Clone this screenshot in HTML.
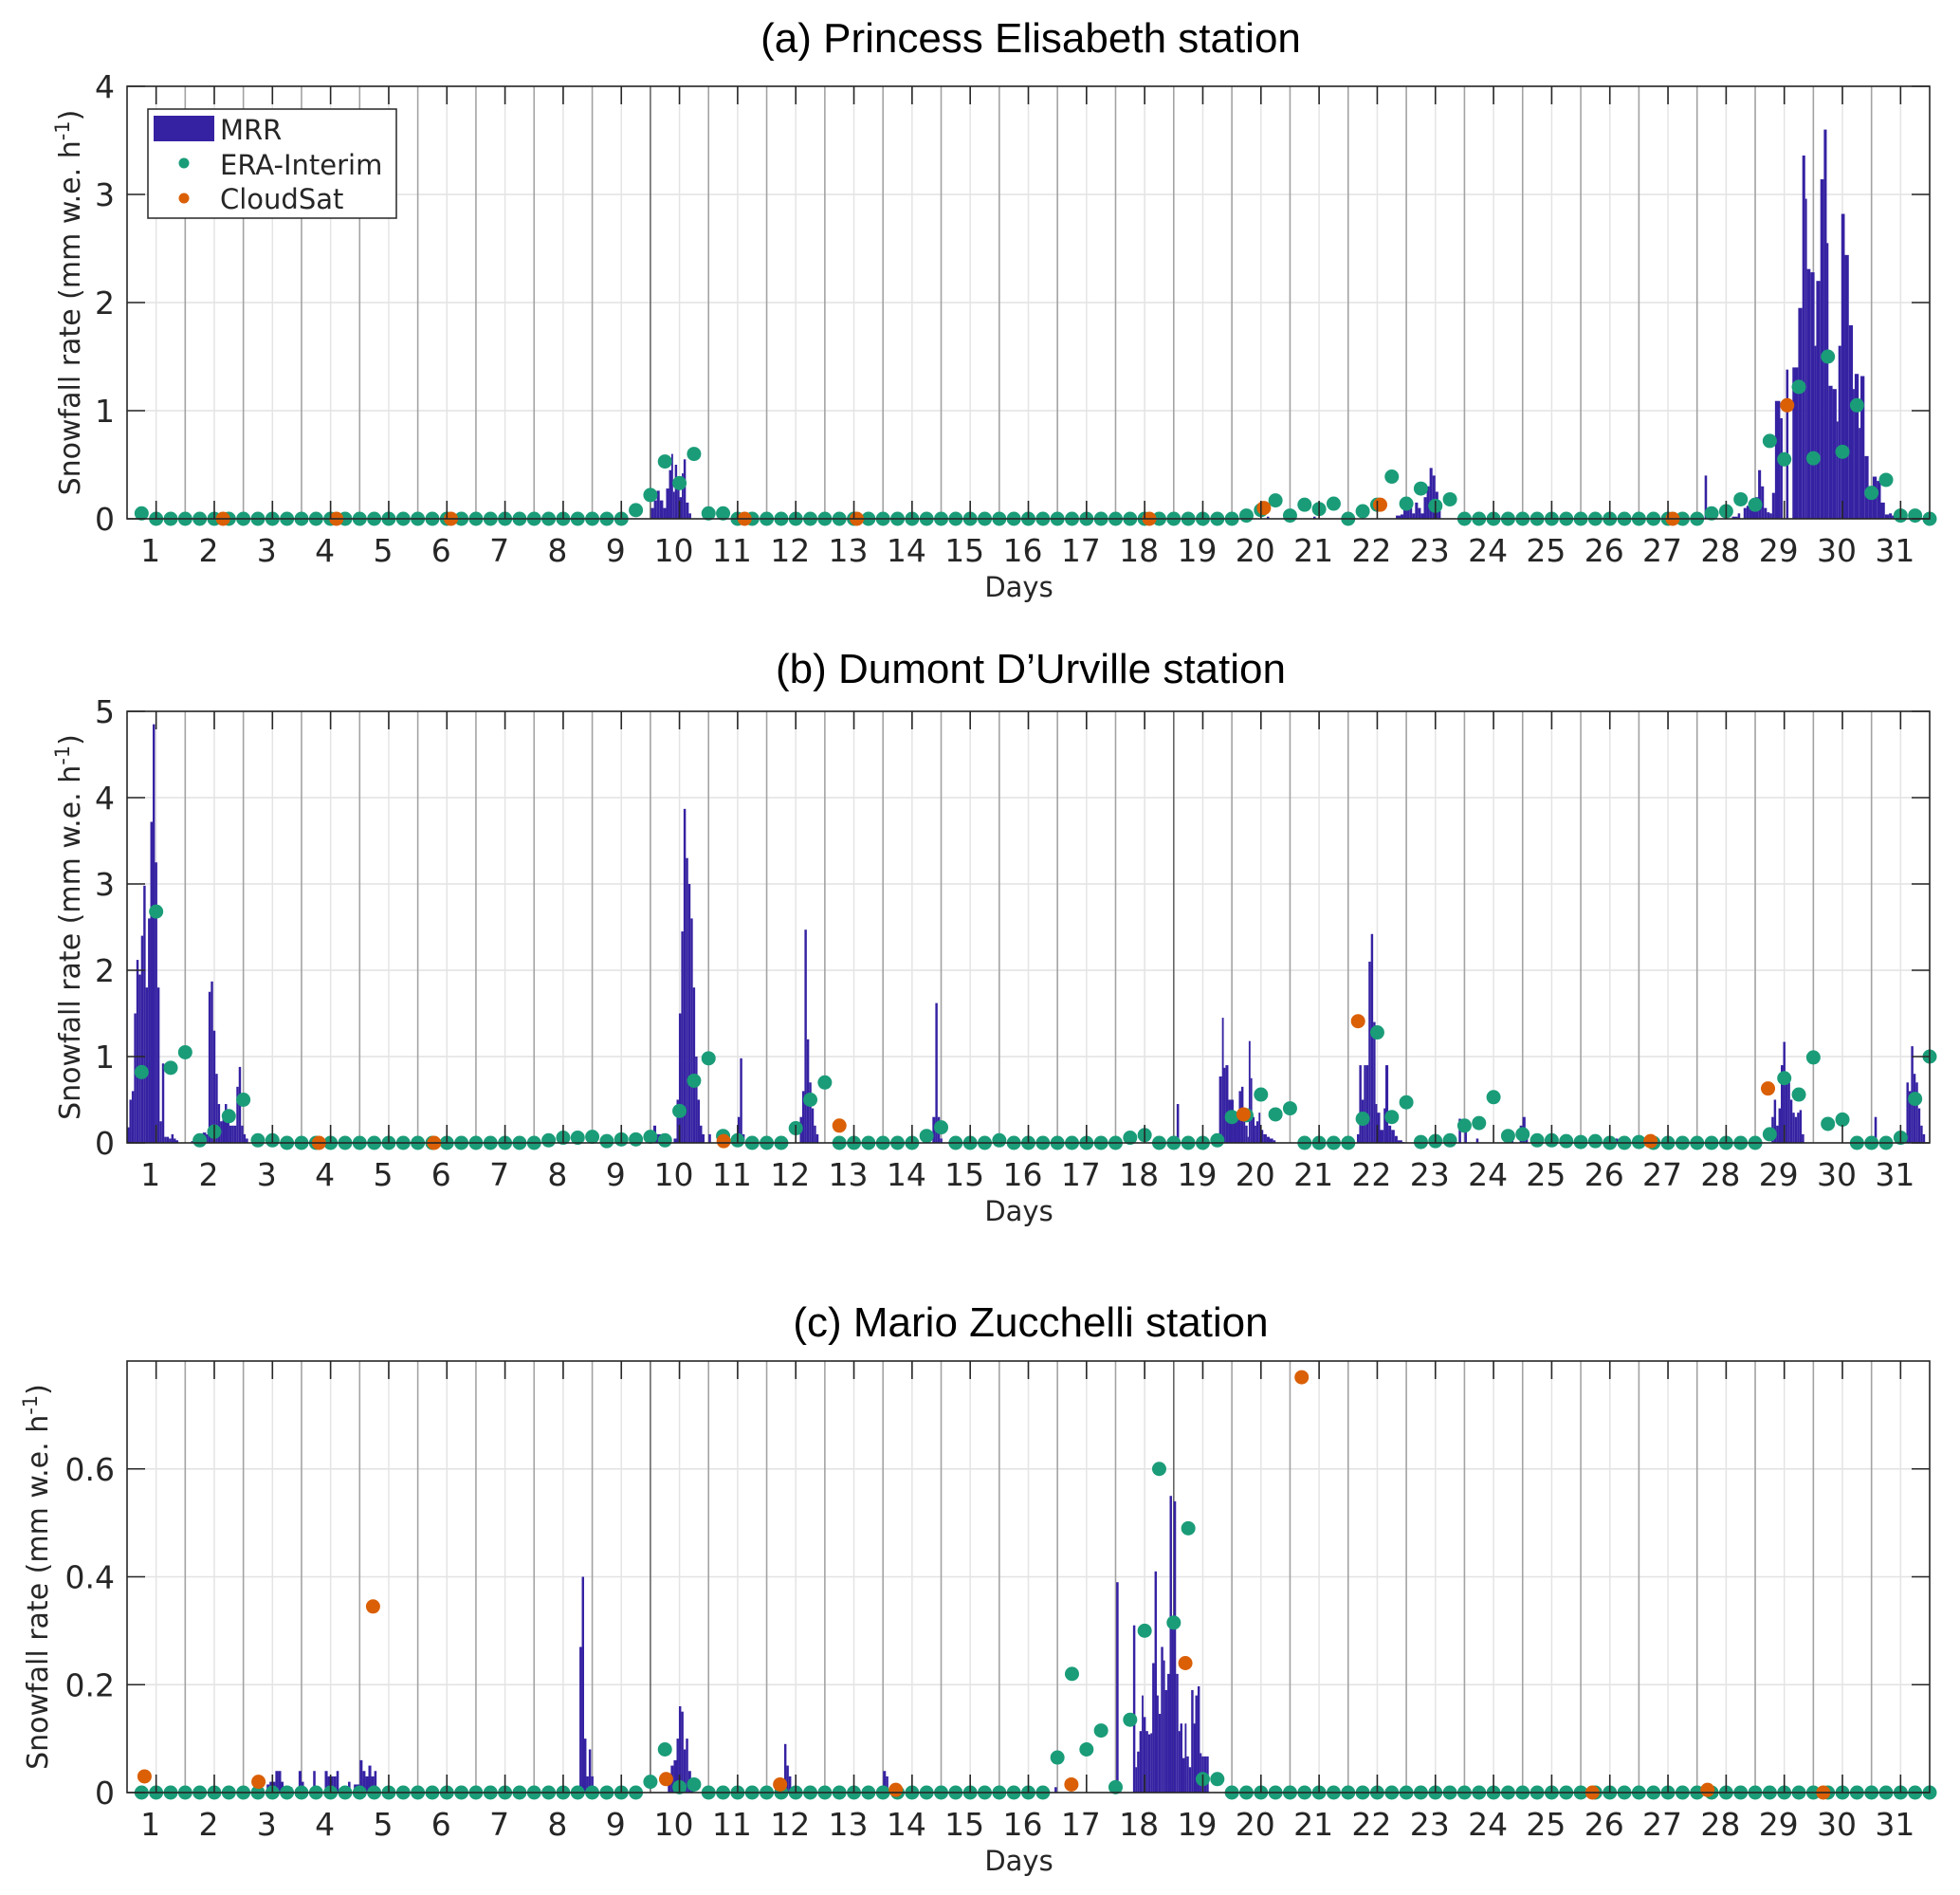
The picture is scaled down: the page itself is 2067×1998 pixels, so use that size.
<!DOCTYPE html>
<html><head><meta charset="utf-8"><title>Snowfall rate</title>
<style>
html,body{margin:0;padding:0;background:#fff;}
svg{display:block;}
text{font-family:"DejaVu Sans","Liberation Sans",sans-serif;fill:#262626;}
.title{font-family:"Liberation Sans",sans-serif;font-size:44px;fill:#000;}
</style></head>
<body>
<svg id="fig" width="2067" height="1998" viewBox="0 0 2067 1998" xmlns="http://www.w3.org/2000/svg"></svg>
<script>
// ---------- DATA ----------
const dayTicks = [1,2,3,4,5,6,7,8,9,10,11,12,13,14,15,16,17,18,19,20,21,22,23,24,25,26,27,28,29,30,31];
const titles = ["(a) Princess Elisabeth station","(b) Dumont D\u2019Urville station","(c) Mario Zucchelli station"];
const yTicksA = [0,1,2,3,4];
const yTicksB = [0,1,2,3,4,5];
const yTicksC = [0,0.2,0.4,0.6];
const yLabelsC = ["0","0.2","0.4","0.6"];
const yMaxes = [4,5,0.8];

// ERA-Interim, 6-hourly from day 0.75 to 31.5 (4 values per row)
const eraA = [
0.05,0,0,0, 0,0,0,0, 0,0,0,0, 0,0,0,0, 0,0,0,0, 0,0,0,0, 0,0,0,0, 0,0,0,0,
0,0,0.08,0.22, 0.53,0.33,0.6,0.05, 0.05,0,0,0, 0,0,0,0, 0,0,0,0, 0,0,0,0, 0,0,0,0, 0,0,0,0,
0,0,0,0, 0,0,0,0, 0,0,0,0, 0.03,0.08,0.17,0.03, 0.13,0.09,0.14,0, 0.07,0.13,0.39,0.14, 0.28,0.12,0.18,0, 0,0,0,0,
0,0,0,0, 0,0,0,0, 0,0,0,0, 0.05,0.07,0.18,0.13, 0.72,0.55,1.22,0.56, 1.5,0.62,1.05,0.24, 0.36,0.03,0.03,0];
const eraB = [
0.82,2.68,0.87,1.05, 0.03,0.13,0.31,0.5, 0.03,0.03,0,0, 0,0,0,0, 0,0,0,0, 0,0,0,0, 0,0,0,0, 0.03,0.06,0.06,0.07,
0.02,0.04,0.04,0.07, 0.03,0.37,0.72,0.98, 0.08,0.03,0,0, 0,0.17,0.5,0.7, 0,0,0,0, 0,0,0.08,0.18, 0,0,0,0.03, 0,0,0,0,
0,0,0,0, 0.06,0.09,0,0, 0,0,0.03,0.3, 0.32,0.56,0.33,0.4, 0,0,0,0, 0.28,1.28,0.3,0.47, 0.01,0.02,0.03,0.2, 0.23,0.53,0.08,0.1,
0.03,0.03,0.02,0.01, 0.02,0,0,0.01, 0,0,0,0, 0,0,0,0, 0.1,0.75,0.56,0.99, 0.22,0.27,0,0, 0,0.06,0.51,1.0];
const eraC = [
0,0,0,0, 0,0,0,0, 0,0,0,0, 0,0,0,0, 0,0,0,0, 0,0,0,0, 0,0,0,0, 0,0,0,0,
0,0,0,0.02, 0.08,0.01,0.015,0, 0,0,0,0, 0,0,0,0, 0,0,0,0, 0,0,0,0, 0,0,0,0, 0,0,0,0.065,
0.22,0.08,0.115,0.01, 0.135,0.3,0.6,0.315, 0.49,0.025,0.025,0, 0,0,0,0, 0,0,0,0, 0,0,0,0, 0,0,0,0, 0,0,0,0,
0,0,0,0, 0,0,0,0, 0,0,0,0, 0,0,0,0, 0,0,0,0, 0,0,0,0, 0,0,0,0];
const eraStartDay = 0.75;
const eraStepDay = 0.25;

// CloudSat overpasses
const csTimesA = [2.15,4.1,6.07,11.12,13.05,18.08,20.05,22.05,27.08,29.05];
const csValsA  = [0,0,0,0,0,0,0.1,0.13,0,1.05];
const csTimesB = [3.8,5.78,10.76,12.75,19.7,21.67,26.7,28.72];
const csValsB  = [0,0,0.02,0.2,0.33,1.41,0.02,0.63];
const csTimesC = [0.8,2.76,4.73,9.77,11.73,13.72,16.74,18.7,20.7,25.7,27.68,29.67];
const csValsC  = [0.03,0.02,0.345,0.025,0.015,0.005,0.015,0.24,0.77,0,0.005,0];

// MRR bars (start day, value)
const mrrTimesA = [9.51,9.56,9.61,9.66,9.72,9.77,9.82,9.86,9.89,9.92,9.96,10.0,10.04,10.07,10.11,10.16,
20.1,20.5,20.9,
22.32,22.4,22.45,22.5,22.55,22.6,22.65,22.7,22.75,22.8,22.85,22.9,22.95,23.0,23.05,
27.63,
28.1,28.2,28.3,28.35,28.4,28.45,28.5,28.55,28.6,28.65,28.7,28.75,
28.79,28.84,28.93,29.03,29.14,29.24,29.31,29.36,29.39,29.45,29.52,29.55,29.62,29.68,29.73,29.76,29.83,29.90,29.93,29.98,30.04,30.11,30.18,30.21,30.28,30.31,30.38,30.45,30.52,30.59,30.66,30.73,30.8,30.85];
const mrrValsA = [0.1,0.17,0.26,0.17,0.1,0.28,0.45,0.6,0.25,0.5,0.3,0.2,0.42,0.55,0.15,0.05,
0.02,0.03,0.02,
0.03,0.04,0.08,0.2,0.1,0.05,0.15,0.1,0.05,0.2,0.3,0.47,0.4,0.25,0.1,
0.4,
0.02,0.05,0.1,0.12,0.15,0.1,0.2,0.45,0.3,0.1,0.06,0.05,
0.24,1.09,0.93,1.38,1.4,1.95,3.36,2.96,2.31,2.28,1.6,2.2,3.14,3.6,2.55,1.23,1.2,0.9,1.6,2.82,2.44,1.79,1.2,1.34,0.84,1.32,0.58,0.22,0.39,0.35,0.15,0.04,0.05,0.03];

const mrrTimesB = [0.5,0.54,0.58,0.62,0.66,0.7,0.74,0.78,0.82,0.86,0.9,0.94,0.98,1.02,1.06,1.1,1.14,1.18,1.22,1.26,1.3,1.34,
1.6,1.66,1.7,1.75,1.8,1.86,1.9,1.94,1.98,2.02,2.06,2.1,2.14,2.18,2.22,2.26,2.3,2.34,2.38,2.42,2.46,2.5,2.54,
9.55,9.6,9.7,9.9,9.95,9.99,10.03,10.07,10.11,10.15,10.19,10.23,10.27,10.31,10.35,10.39,10.5,10.7,10.75,
11.0,11.04,11.08,
12.07,12.11,12.15,12.19,12.23,12.27,12.31,12.35,
14.35,14.4,14.44,14.48,
18.55,
19.28,19.33,19.36,19.39,19.44,19.49,19.53,19.58,19.62,19.66,19.70,19.73,19.77,19.79,19.82,19.85,19.89,19.92,19.96,19.99,20.04,20.10,20.15,20.21,
21.65,21.69,21.73,21.77,21.80,21.85,21.89,21.93,21.97,22.0,22.05,22.11,22.14,22.19,22.24,22.30,22.35,22.43,
23.4,23.5,23.7,24.3,24.45,24.5,24.55,25.9,26.1,
28.78,28.82,28.86,28.9,28.94,28.98,29.02,29.06,29.1,29.14,29.18,29.22,29.26,29.3,
30.55,
31.05,31.1,31.14,31.18,31.22,31.26,31.3,31.34,31.38];
const mrrValsB = [0.18,0.5,0.6,1.5,2.12,1.95,2.4,2.98,1.8,2.6,3.72,4.85,3.25,1.8,0.25,0.92,0.07,0.07,0.05,0.1,0.05,0.03,
0.02,0.03,0.1,0.05,0.12,0.1,1.75,1.87,1.3,0.8,0.45,0.25,0.3,0.45,0.3,0.2,0.2,0.2,0.65,0.88,0.2,0.1,0.05,
0.2,0.1,0.05,0.05,0.5,1.5,2.45,3.87,3.3,3.0,2.6,1.8,1.0,0.5,0.2,0.1,0.1,0.15,0.1,
0.3,0.98,0.1,
0.3,0.6,2.47,1.2,0.7,0.4,0.2,0.1,
0.3,1.62,0.3,0.05,
0.45,
0.77,1.45,0.87,0.9,0.5,0.5,0.3,0.3,0.6,0.65,0.3,0.2,0.07,1.18,0.75,0.3,0.2,0.25,0.35,0.15,0.1,0.07,0.05,0.03,
0.1,0.9,0.5,0.9,0.9,2.1,2.42,1.4,0.45,0.35,0.15,0.4,0.9,0.2,0.15,0.08,0.03,0.01,
0.28,0.15,0.05,0.1,0.2,0.3,0.15,0.05,0.05,
0.3,0.5,0.2,0.4,0.9,1.17,0.8,0.7,0.5,0.35,0.3,0.35,0.38,0.1,
0.3,
0.1,0.7,0.6,1.12,0.8,0.7,0.4,0.2,0.1];

const mrrTimesC = [2.9,2.95,3.0,3.05,3.1,3.15,3.3,3.45,3.5,3.7,3.9,3.95,4.05,4.1,4.2,4.3,4.4,4.5,4.55,4.6,4.65,4.7,4.75,
8.28,8.32,8.36,8.4,8.44,8.48,
9.8,9.85,9.9,9.95,9.99,10.03,10.07,10.11,10.15,10.2,
11.8,11.84,11.88,
13.5,13.55,
16.45,
17.51,
17.80,17.84,17.87,17.91,17.95,17.98,18.02,18.06,18.10,18.13,18.17,18.21,18.24,18.28,18.32,18.35,18.39,18.43,18.47,18.50,18.54,18.58,18.61,18.65,18.69,18.72,18.76,18.80,18.84,18.87,18.91,18.95,18.98,19.02,19.06];
const mrrValsC = [0.015,0.02,0.02,0.04,0.04,0.02,0.01,0.04,0.02,0.04,0.04,0.03,0.03,0.04,0.01,0.02,0.015,0.06,0.04,0.03,0.05,0.03,0.04,
0.27,0.4,0.1,0.03,0.08,0.03,
0.03,0.05,0.06,0.1,0.16,0.15,0.08,0.1,0.04,0.02,
0.09,0.05,0.03,
0.04,0.03,
0.01,
0.39,
0.31,0.047,0.076,0.114,0.18,0.14,0.114,0.108,0.11,0.24,0.41,0.18,0.146,0.27,0.245,0.19,0.22,0.55,0.31,0.54,0.22,0.114,0.128,0.064,0.128,0.067,0.047,0.19,0.128,0.18,0.197,0.073,0.067,0.067,0.067];

// ---------- DRAW ----------
const NS = "http://www.w3.org/2000/svg";
const svg = document.getElementById('fig');
const L = 134, R = 2035, X0 = 0.5, X1 = 31.5;
const panels = [
  {top:91, bot:547, ymax:yMaxes[0], yt:yTicksA, yl:yTicksA.map(String), era:eraA, csT:csTimesA, csV:csValsA, mT:mrrTimesA, mV:mrrValsA, dark:[9.5], titleY:55, ylx:84, name:'panel-a'},
  {top:750, bot:1205, ymax:yMaxes[1], yt:yTicksB, yl:yTicksB.map(String), era:eraB, csT:csTimesB, csV:csValsB, mT:mrrTimesB, mV:mrrValsB, dark:[18.5], titleY:720, ylx:84, name:'panel-b'},
  {top:1435, bot:1890, ymax:yMaxes[2], yt:yTicksC, yl:yLabelsC, era:eraC, csT:csTimesC, csV:csValsC, mT:mrrTimesC, mV:mrrValsC, dark:[9.5,18.5], titleY:1409, ylx:50, name:'panel-c'}
];
function xs(d){ return L + (d - X0) / (X1 - X0) * (R - L); }
function mk(tag, attrs, parent){
  const e = document.createElementNS(NS, tag);
  for (const k in attrs) e.setAttribute(k, attrs[k]);
  (parent || svg).appendChild(e);
  return e;
}
const C_MRR = '#3522a2', C_ERA = '#1a9c78', C_CS = '#da5f05';

panels.forEach((p, pi) => {
  const g = mk('g', {});
  
  
  const ys = v => p.bot - v / p.ymax * (p.bot - p.top);
  p.yt.forEach(v => {
    if (v === 0) return;
    const l = mk('line', {x1:L, x2:R, y1:ys(v), y2:ys(v), stroke:'#e2e2e2', 'stroke-width':1.5}, g);
    
    
  });
  dayTicks.forEach(d => {
    const l = mk('line', {x1:xs(d), x2:xs(d), y1:p.top, y2:p.bot, stroke:'#e4e4e4', 'stroke-width':1.5}, g);
    
    
  });
  for (let i = 0; i < dayTicks.length - 1; i++) {
    const d = dayTicks[i] + 0.5;
    const dark = p.dark.indexOf(d) >= 0;
    const l = mk('line', {x1:xs(d), x2:xs(d), y1:p.top, y2:p.bot, stroke: dark ? '#666' : '#a3a3a3', 'stroke-width':1.6}, g);
    
    
  }
  for (let i = 0; i < p.mT.length; i++) {
    const t = p.mT[i];
    let w = 1/24;
    if (i + 1 < p.mT.length) { const gap = p.mT[i+1] - t; if (gap > 0 && gap < 0.1) w = gap; }
    const x = xs(t), x2 = Math.min(xs(t + w), R);
    const y = ys(Math.min(p.mV[i], p.ymax));
    const r = mk('rect', {x:x, y:y, width:Math.max(1, x2 - x), height:p.bot - y, fill:C_MRR}, g);
    
    
  }
  for (let i = 0; i < p.era.length; i++) {
    const c = mk('circle', {cx:xs(eraStartDay + i * eraStepDay), cy:ys(p.era[i]), r:7.5, fill:C_ERA}, g);
    
    
  }
  for (let i = 0; i < p.csT.length; i++) {
    const c = mk('circle', {cx:xs(p.csT[i]), cy:ys(p.csV[i]), r:7.5, fill:C_CS}, g);
    
    
  }
  const box = mk('rect', {x:L, y:p.top, width:R-L, height:p.bot-p.top, fill:'none', stroke:'#262626', 'stroke-width':1.6}, g);
  
  
  dayTicks.forEach(d => {
    const x = xs(d);
    const t1 = mk('line', {x1:x, x2:x, y1:p.top, y2:p.top + 19, stroke:'#262626', 'stroke-width':1.6}, g);
    
    
    const t2 = mk('line', {x1:x, x2:x, y1:p.bot, y2:p.bot - 19, stroke:'#262626', 'stroke-width':1.6}, g);
    
    
    const tx = mk('text', {x:x - 6, y:p.bot + 45, 'font-size':33, 'text-anchor':'middle'}, g);
    tx.textContent = String(d);
    
    
  });
  p.yt.forEach((v, k) => {
    const y = ys(v);
    const a = mk('line', {x1:L, x2:L + 19, y1:y, y2:y, stroke:'#262626', 'stroke-width':1.6}, g);
    
    
    const b = mk('line', {x1:R, x2:R - 19, y1:y, y2:y, stroke:'#262626', 'stroke-width':1.6}, g);
    
    
    const tx = mk('text', {x:121, y:y + 12, 'font-size':33, 'text-anchor':'end'}, g);
    tx.textContent = p.yl[k];
    
    
  });
  const xl = mk('text', {x:(L + R) / 2 - 10, y:p.bot + 82, 'font-size':29, 'text-anchor':'middle'}, g);
  xl.textContent = 'Days';
  
  
  const cy = (p.top + p.bot) / 2;
  const yl = mk('text', {x:0, y:0, 'font-size':30, 'text-anchor':'middle', transform:'translate(' + p.ylx + ',' + cy + ') rotate(-90)'}, g);
  
  
  yl.appendChild(document.createTextNode('Snowfall rate (mm w.e. h'));
  const sup = mk('tspan', {dy:-11, 'font-size':21}, yl);
  sup.textContent = '-1';
  const cl = mk('tspan', {dy:11}, yl);
  cl.textContent = ')';
  const tt = mk('text', {x:1087, y:p.titleY, 'text-anchor':'middle', class:'title'}, g);
  tt.textContent = titles[pi];
  
  
});

// legend (panel a)
const lg = mk('g', {});


const lb = mk('rect', {x:156, y:115, width:262, height:115, fill:'#fff', stroke:'#262626', 'stroke-width':1.5}, lg);


const sw = mk('rect', {x:162, y:122, width:64, height:27, fill:C_MRR}, lg);


const m1 = mk('circle', {cx:194, cy:172, r:5.5, fill:C_ERA}, lg);


const m2 = mk('circle', {cx:194, cy:209, r:5.5, fill:C_CS}, lg);


[['MRR',147,'legend-entry-mrr'],['ERA-Interim',184,'legend-entry-era'],['CloudSat',220,'legend-entry-cloudsat']].forEach(e => {
  const t = mk('text', {x:232, y:e[1], 'font-size':29, fill:'#000'}, lg);
  t.textContent = e[0];
  
  
});
</script>
</body></html>
